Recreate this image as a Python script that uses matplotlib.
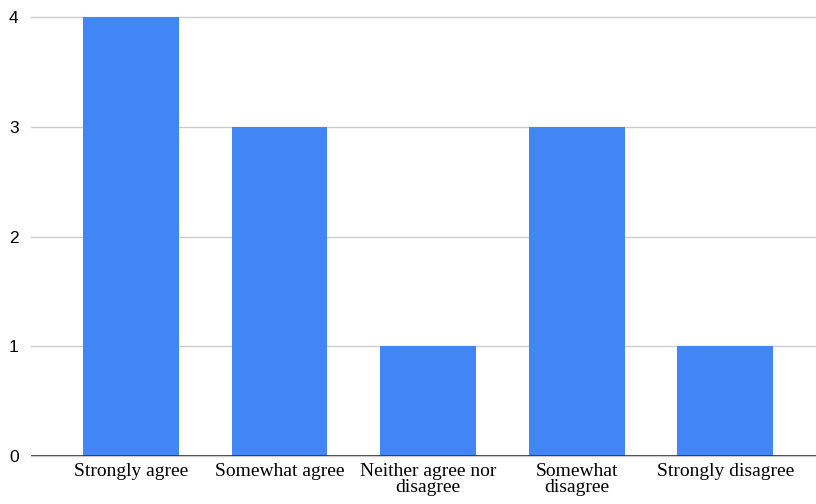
import matplotlib.pyplot as plt

categories = ["Strongly agree", "Somewhat agree", "Neither agree nor\ndisagree",
              "Somewhat\ndisagree", "Strongly disagree"]
counts = [4, 3, 1, 3, 1]
yticks = [0, 1, 2, 3, 4]


def main():
    fig = plt.figure(figsize=(8.16, 5.04), dpi=100)
    ax = fig.add_axes([0.038, 0.095, 0.962, 0.871])

    x = list(range(len(categories)))
    ax.bar(x, counts, width=0.645, color="#4285F4", zorder=3)

    ax.set_xlim(-0.672, 4.61)
    ax.set_ylim(0, 4)
    ax.set_yticks(yticks)
    ax.set_yticklabels([str(t) for t in yticks], fontsize=12.5, family="Liberation Sans")
    ax.set_xticks(x)
    ax.set_xticklabels(categories, fontsize=14, family="Liberation Serif", linespacing=0.95)

    ax.grid(axis="y", color="#cccccc", linewidth=1, zorder=0)
    ax.axhline(0, color="#333333", linewidth=1.2, zorder=4)
    for s in ax.spines.values():
        s.set_visible(False)
    ax.tick_params(axis="both", length=0)
    ax.tick_params(axis="y", pad=9)
    ax.tick_params(axis="x", pad=5)
    for gl in ax.get_ygridlines():
        gl.set_clip_on(False)

    fig.savefig("out.png", dpi=100)
    plt.close(fig)


if __name__ == "__main__":
    main()
